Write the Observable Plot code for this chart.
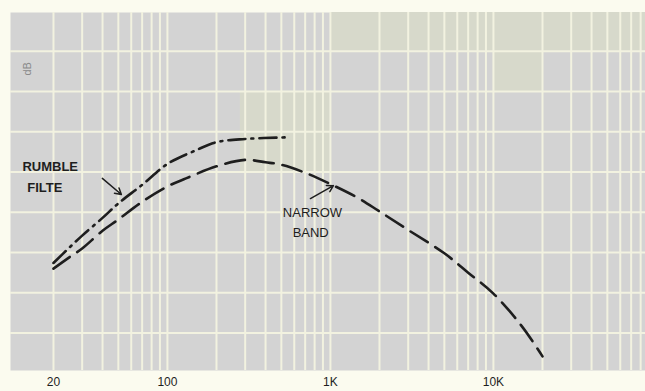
<!DOCTYPE html>
<html>
<head>
<meta charset="utf-8">
<script src="https://cdn.jsdelivr.net/npm/d3@7"></script>
<script src="https://cdn.jsdelivr.net/npm/@observablehq/plot@0.6"></script>
<style>
  html, body { margin: 0; padding: 0; background: #fbfbef; }
  #chart svg { display: block; }
</style>
</head>
<body>
<div id="chart"></div>
<script>
// Narrow band response (Hz, dB)
const narrowFreq = [20, 25, 30, 40, 50, 70, 100, 130, 200, 300, 400, 500, 700, 1000, 1500, 2000, 3000, 5000, 7000, 10000, 15000, 20000];
const narrowDb   = [-17, -15.6, -14.5, -12.3, -10.9, -8.7, -6.8, -5.8, -4.3, -3.5, -3.8, -4.1, -5.1, -6.5, -8.3, -9.9, -12.2, -15.1, -17.5, -20.1, -24.2, -27.9];

// Rumble filter response (Hz, dB)
const rumbleFreq = [20, 25, 30, 40, 50, 70, 100, 150, 200, 300, 550];
const rumbleDb   = [-16.3, -14.4, -12.9, -10.7, -8.9, -6.6, -4.0, -2.3, -1.3, -0.9, -0.7];

// x tick labels
const tickFreq  = [20, 100, 1000, 10000];
const tickLabel = ["20", "100", "1K", "10K"];

// graph paper grid
const vGrid = [20,30,40,50,60,70,80,90,100,200,300,400,500,600,700,800,900,1000,2000,3000,4000,5000,6000,7000,8000,9000,10000,20000,30000,40000,50000,60000,70000,80000];
const hGrid = [-25, -20, -15, -10, -5, 0, 5, 10];

// tinted paper patches [f1, f2, db1, db2]
const patchF1 = [1000, 280, 10000];
const patchF2 = [85700, 1000, 20000];
const patchD1 = [10, -5, 5];
const patchD2 = [14.8, 5, 10];

// annotations
const leftText = ["RUMBLE", "FILTE"];
const leftF    = [12.9, 13.8];
const leftDb   = [-4.35, -6.95];
const midText  = ["NARROW", "BAND"];
const midF     = [776, 757];
const midDb    = [-10.05, -12.5];
const arrowF1 = [39.9, 754];
const arrowD1 = [-5.8, -8.3];
const arrowF2 = [52.2, 1043];
const arrowD2 = [-7.8, -6.7];

const narrow = narrowFreq.map((f, i) => ({f, db: narrowDb[i]}));
const rumble = rumbleFreq.map((f, i) => ({f, db: rumbleDb[i]}));
const patches = patchF1.map((f1, i) => ({f1, f2: patchF2[i], d1: patchD1[i], d2: patchD2[i]}));
const leftLabels = leftText.map((t, i) => ({t, f: leftF[i], db: leftDb[i]}));
const midLabels = midText.map((t, i) => ({t, f: midF[i], db: midDb[i]}));
const arrows = arrowF1.map((f1, i) => ({f1, d1: arrowD1[i], f2: arrowF2[i], d2: arrowD2[i]}));

const ink = "#1e1e1e";
const chart = Plot.plot({
  width: 645,
  height: 391,
  marginLeft: 10,
  marginRight: 0,
  marginTop: 12,
  marginBottom: 21,
  style: {background: "transparent", fontFamily: "'Liberation Sans', Arial, sans-serif"},
  x: {type: "log", domain: [10.9, 85700]},
  y: {domain: [-29.65, 14.8]},
  marks: [
    Plot.frame({fill: "#d3d3d3", stroke: null}),
    Plot.rect(patches, {x1: "f1", x2: "f2", y1: "d1", y2: "d2", fill: "#d7d9cb"}),
    Plot.ruleX(vGrid, {stroke: "#f2f2e0", strokeWidth: 2}),
    Plot.ruleY(hGrid, {stroke: "#f2f2e0", strokeWidth: 2}),
    Plot.line(narrow, {x: "f", y: "db", curve: "catmull-rom", stroke: ink, strokeWidth: 2.6, strokeDasharray: "20,9"}),
    Plot.line(rumble, {x: "f", y: "db", curve: "catmull-rom", stroke: ink, strokeWidth: 2.6, strokeDasharray: "17,6,2,6"}),
    Plot.arrow(arrows, {x1: "f1", y1: "d1", x2: "f2", y2: "d2", stroke: ink, strokeWidth: 1.5, headLength: 7}),
    Plot.text(leftLabels, {x: "f", y: "db", text: "t", textAnchor: "start", fill: ink, fontSize: 13, fontWeight: "bold", style: "letter-spacing:1px"}),
    Plot.text(midLabels, {x: "f", y: "db", text: "t", textAnchor: "middle", fill: ink, fontSize: 13, fontWeight: "normal", style: "letter-spacing:1px"}),
    Plot.text(["dB"], {x: [13.8], y: [7.8], text: d => d, rotate: -90, fill: "#8a8a8a", fontSize: 11}),
    Plot.axisX(tickFreq, {tickSize: 0, tickPadding: 7, fontSize: 12, fill: ink, tickFormat: (d) => tickLabel[tickFreq.indexOf(d)], label: null}),
    Plot.axisY({ticks: [], label: null, tickSize: 0})
  ]
});
document.getElementById("chart").appendChild(chart);
</script>
</body>
</html>
